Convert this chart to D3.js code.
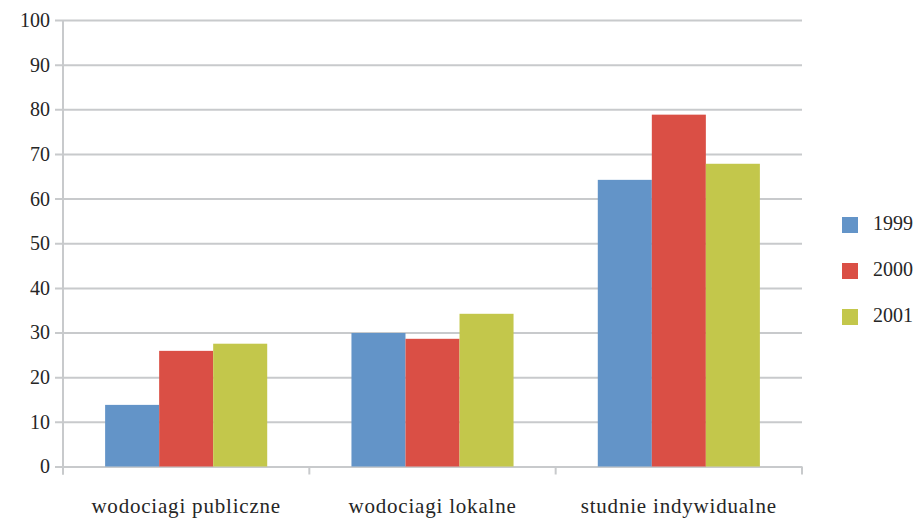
<!DOCTYPE html>
<html>
<head>
<meta charset="utf-8">
<script src="https://cdn.jsdelivr.net/npm/d3@7"></script>
<style>
  @font-face {
    font-family: "ChartSerif";
    src: local("Liberation Serif"), local("LiberationSerif"), local("LiberationSerif-Regular");
  }
  html, body { margin: 0; padding: 0; background: #ffffff; }
  #chart text { font-family: "Liberation Serif", "ChartSerif", "Times New Roman", serif !important; }
</style>
</head>
<body>
<svg id="chart" width="917" height="519" font-family="Liberation Serif"></svg>
<script>
// Categories and yearly series (percent)
const categories = ["wodociagi publiczne", "wodociagi lokalne", "studnie indywidualne"];
const years = ["1999", "2000", "2001"];
const values1999 = [13.8, 29.9, 64.2];
const values2000 = [25.9, 28.6, 78.8];
const values2001 = [27.5, 34.2, 67.8];
const yTicks = [0, 10, 20, 30, 40, 50, 60, 70, 80, 90, 100];
const colors = ["#6394C8", "#DA4F45", "#C3C74B"];

const seriesValues = [values1999, values2000, values2001];
const FONT = "Liberation Serif";
const TEXT_COLOR = "#262626";

const svg = d3.select("#chart");
const margin = { left: 63, right: 115, top: 20, bottom: 52.5 };
const W = 917, H = 519;
const plotW = W - margin.left - margin.right;
const plotH = H - margin.top - margin.bottom;

const g = svg.append("g").attr("transform", `translate(${margin.left},${margin.top})`);

const x0 = d3.scaleBand().domain(categories).range([0, plotW]).paddingInner(0).paddingOuter(0);
const x1 = d3.scaleBand().domain(years).range([0, x0.bandwidth() * 0.658]);
const groupOffset = (x0.bandwidth() - x1.range()[1]) / 2;
const y = d3.scaleLinear().domain([0, 100]).range([plotH, 0]);

const gridColor = "#C8CACC";

// horizontal gridlines with labels
const yAxis = g.append("g")
  .call(d3.axisLeft(y).tickValues(yTicks).tickSize(-plotW).tickPadding(13).tickSizeOuter(0));
yAxis.attr("font-family", FONT).attr("font-size", 20);
yAxis.select(".domain").remove();
yAxis.selectAll(".tick line")
  .attr("x1", -8)
  .attr("stroke", gridColor).attr("stroke-width", 2);
yAxis.selectAll(".tick text")
  .attr("font-family", FONT)
  .attr("font-size", 20)
  .attr("fill", TEXT_COLOR);

// vertical axis line
g.append("line")
  .attr("x1", 0).attr("x2", 0).attr("y1", 0).attr("y2", plotH + 8)
  .attr("stroke", gridColor).attr("stroke-width", 2);

// category boundary ticks
const boundaries = categories.map(c => x0(c) + x0.bandwidth()).concat([0]);
g.selectAll("line.ctick").data(boundaries).enter().append("line")
  .attr("class", "ctick")
  .attr("x1", d => d).attr("x2", d => d)
  .attr("y1", plotH).attr("y2", plotH + 8)
  .attr("stroke", gridColor).attr("stroke-width", 2);

// bars
const groups = g.selectAll("g.cat").data(categories).enter().append("g")
  .attr("class", "cat")
  .attr("transform", c => `translate(${x0(c) + groupOffset},0)`);

groups.selectAll("rect").data((c, i) => years.map((yr, j) => ({ yr, v: seriesValues[j][i], j })))
  .enter().append("rect")
  .attr("x", d => x1(d.yr))
  .attr("width", x1.bandwidth())
  .attr("y", d => y(d.v))
  .attr("height", d => plotH - y(d.v))
  .attr("fill", d => colors[d.j]);

// category labels
g.selectAll("text.cat").data(categories).enter().append("text")
  .attr("class", "cat")
  .attr("x", c => x0(c) + x0.bandwidth() / 2)
  .attr("y", plotH + 46.5)
  .attr("text-anchor", "middle")
  .attr("fill", TEXT_COLOR)
  .attr("font-family", FONT)
  .attr("font-size", 21)
  .attr("letter-spacing", 0.8)
  .text(c => c);

// legend
const legend = svg.append("g").attr("transform", "translate(842,217)");
const items = legend.selectAll("g").data(years).enter().append("g")
  .attr("transform", (d, i) => `translate(0,${i * 46})`);
items.append("rect").attr("width", 16).attr("height", 16)
  .attr("fill", (d, i) => colors[i]);
items.append("text").attr("x", 31).attr("y", 13)
  .attr("fill", TEXT_COLOR)
  .attr("font-family", FONT)
  .attr("font-size", 20)
  .text(d => d);
</script>
</body>
</html>
